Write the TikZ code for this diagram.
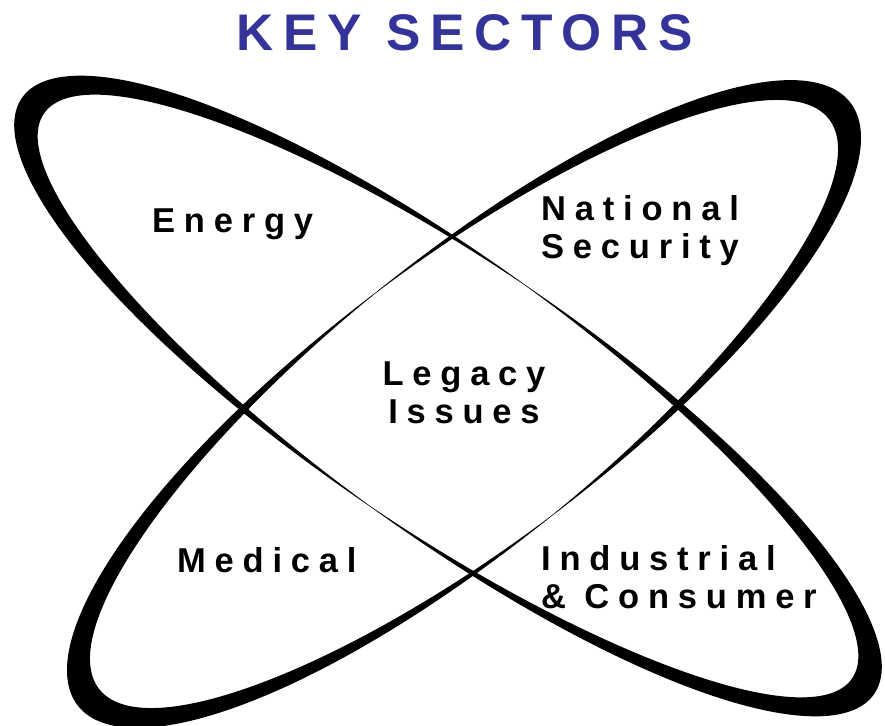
\documentclass[tikz,border=0pt]{standalone}
\usepackage{fontspec}
\setmainfont{Liberation Sans}
\newfontfamily\labfont{Liberation Sans Bold}[LetterSpace=25.5]
\newfontfamily\titfont[LetterSpace=19]{Liberation Sans}
\definecolor{titleblue}{RGB}{51,51,153}
\newcommand{\ringshape}[5]{%
\begin{scope}[shift={(#1,#2)},rotate=#3]
\fill[black,even odd rule]
 plot[domain=0:360,samples=400] ({#4*cos(\x)},{(#5+0.25+8*abs(cos(\x)))*sin(\x)}) -- cycle
 plot[domain=0:360,samples=400] ({(#4-27)*cos(\x)},{(#5-0.25-8*abs(cos(\x)))*sin(\x)}) -- cycle;
\end{scope}}
\begin{document}
\begin{tikzpicture}[x=1pt,y=1pt]
\tikzset{lab/.style={inner sep=0pt, font=\labfont\fontsize{34.5}{38}\selectfont},
 titlestyle/.style={inner sep=0pt, font=\titfont\bfseries\fontsize{51.5}{60}\selectfont, text=titleblue}}
\useasboundingbox (0,0) rectangle (885,-725);
\ringshape{448}{-396}{-35}{520}{135}
\ringshape{464}{-404}{38}{490}{142}
\node[titlestyle,anchor=base] (title) at (465,-50) {KEY SECTORS};
\node[lab,anchor=base west] (energy) at (152,-232) {Energy};
\node[lab,anchor=base west] (medical) at (177,-572) {Medical};
\node[lab,align=left,anchor=north west] (natsec) at (541,-195) {National\\Security};
\node[lab,align=center,anchor=north] (legacy) at (464,-362) {Legacy\\Issues};
\node[lab,align=left,anchor=north west] (indcon) at (541,-545) {Industrial\\\& Consumer};
\end{tikzpicture}
\end{document}
